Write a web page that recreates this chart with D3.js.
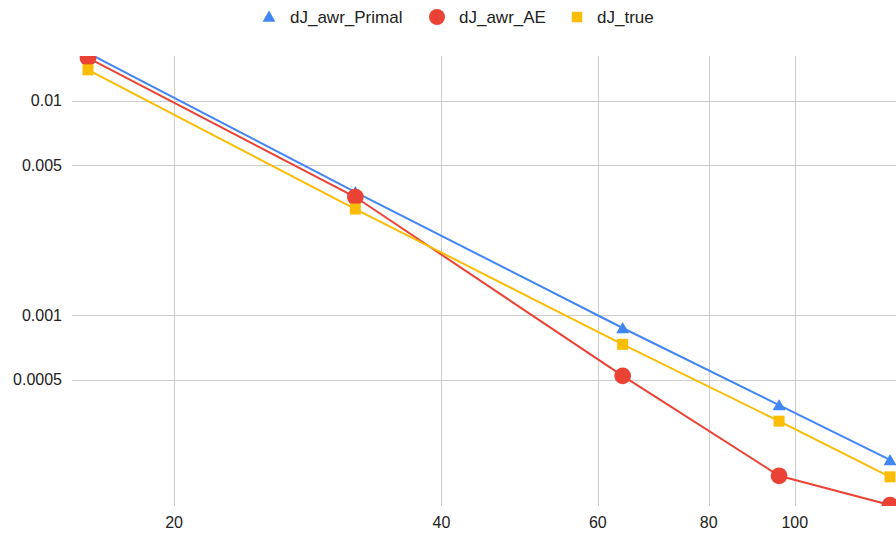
<!DOCTYPE html>
<html>
<head>
<meta charset="utf-8">
<script src="https://cdn.jsdelivr.net/npm/d3@7"></script>
<style>
  html, body { margin: 0; padding: 0; background: #fff; }
  svg { display: block; font-family: "Liberation Sans", Arial, sans-serif; }
</style>
</head>
<body>
<svg id="chart" width="896" height="537"></svg>
<script>
// Problem sizes (x) and derivative errors per method (y), both on log scales
const nValues = [16, 32, 64, 96, 128];
const primal  = [0.01665, 0.003745, 0.00087, 0.00038, 0.000211];
const ae      = [0.0158, 0.00355, 0.00052, 0.000178, 0.00013];
const trueVal = [0.0139, 0.00312, 0.00073, 0.00032, 0.000176];

const xTicks = [20, 40, 60, 80, 100];
const yTicks = [0.01, 0.005, 0.001, 0.0005];
const yTickLabels = ["0.01", "0.005", "0.001", "0.0005"];

const seriesNames = ["dJ_awr_Primal", "dJ_awr_AE", "dJ_true"];
const seriesColors = ["#4285F4", "#EA4335", "#FBBC04"];
const seriesShapes = ["triangle", "circle", "square"];
const seriesValues = [primal, ae, trueVal];

const plot = { left: 72, right: 896, top: 56, bottom: 506 };

const svg = d3.select("#chart");

const x = d3.scaleLog().domain([15.35, 130]).range([plot.left, plot.right]);
const y = d3.scaleLog().domain([0.0001287, 0.01613]).range([plot.bottom, plot.top]);

svg.append("defs").append("clipPath").attr("id", "plot-clip")
  .append("rect")
  .attr("x", plot.left).attr("y", plot.top)
  .attr("width", plot.right - plot.left).attr("height", plot.bottom - plot.top);

// Gridlines
const grid = svg.append("g");
grid.selectAll("line.h").data(yTicks).join("line")
  .attr("x1", plot.left).attr("x2", plot.right)
  .attr("y1", d => Math.round(y(d)) + 0.5).attr("y2", d => Math.round(y(d)) + 0.5)
  .attr("stroke", "#cccccc").attr("stroke-width", 1);
grid.selectAll("line.v").data(xTicks).join("line")
  .attr("y1", plot.top).attr("y2", plot.bottom)
  .attr("x1", d => Math.round(x(d)) + 0.5).attr("x2", d => Math.round(x(d)) + 0.5)
  .attr("stroke", "#cccccc").attr("stroke-width", 1);

// Axis labels
svg.append("g").selectAll("text").data(yTicks).join("text")
  .attr("x", 62).attr("y", d => y(d))
  .attr("dy", "0.35em")
  .attr("text-anchor", "end")
  .attr("font-size", 16).attr("fill", "#222")
  .text((d, i) => yTickLabels[i]);

svg.append("g").selectAll("text").data(xTicks).join("text")
  .attr("x", d => x(d)).attr("y", 522)
  .attr("dy", "0.35em")
  .attr("text-anchor", "middle")
  .attr("font-size", 16).attr("fill", "#222")
  .text(d => d);

// Marker shapes
function symbolFor(shape) {
  if (shape === "triangle") return d3.symbol().type(d3.symbolTriangle).size(72)();
  if (shape === "square") return d3.symbol().type(d3.symbolSquare).size(121)();
  return d3.symbol().type(d3.symbolCircle).size(220)();
}

const plotG = svg.append("g").attr("clip-path", "url(#plot-clip)");
const line = d3.line().x(d => x(d[0])).y(d => y(d[1]));

seriesValues.forEach((vals, i) => {
  const pts = nValues.map((n, j) => [n, vals[j]]);
  plotG.append("path")
    .datum(pts)
    .attr("d", line)
    .attr("fill", "none")
    .attr("stroke", seriesColors[i])
    .attr("stroke-width", 2);
});

seriesValues.forEach((vals, i) => {
  const pts = nValues.map((n, j) => [n, vals[j]]);
  const shift = seriesShapes[i] === "triangle" ? 1.5 : 0;
  plotG.append("g").selectAll("path").data(pts).join("path")
    .attr("d", symbolFor(seriesShapes[i]))
    .attr("transform", d => `translate(${x(d[0])},${y(d[1]) + shift})`)
    .attr("fill", seriesColors[i]);
});

// Legend
const legendItems = [
  { x: 269, tx: 290 },
  { x: 437, tx: 459 },
  { x: 577, tx: 597 }
];
const legend = svg.append("g");
seriesNames.forEach((name, i) => {
  const shape = seriesShapes[i];
  let sym;
  if (shape === "triangle") sym = d3.symbol().type(d3.symbolTriangle).size(72)();
  else if (shape === "square") sym = d3.symbol().type(d3.symbolSquare).size(110)();
  else sym = d3.symbol().type(d3.symbolCircle).size(200)();
  legend.append("path")
    .attr("d", sym)
    .attr("transform", `translate(${legendItems[i].x},${shape === "triangle" ? 18 : 17})`)
    .attr("fill", seriesColors[i]);
  legend.append("text")
    .attr("x", legendItems[i].tx).attr("y", 17)
    .attr("dy", "0.35em")
    .attr("font-size", 17).attr("fill", "#222")
    .text(name);
});
</script>
</body>
</html>
